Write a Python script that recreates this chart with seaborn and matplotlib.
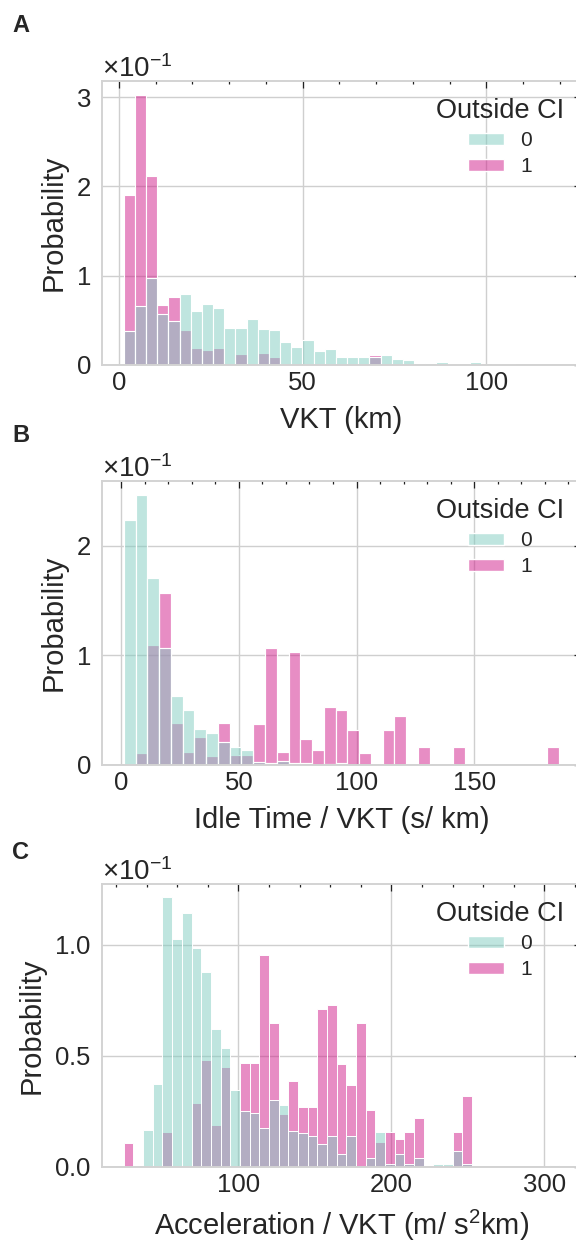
import numpy as np
import pandas as pd
import matplotlib
matplotlib.use("Agg")
import matplotlib.pyplot as plt
from matplotlib.ticker import MultipleLocator, AutoMinorLocator, ScalarFormatter
import seaborn as sns

# ---------------- data (bin layout + per-group probabilities) ----------------
hue_levels = [0, 1]
hue_title = "Outside CI"

# Panel A: VKT (km)
vkt_start, vkt_width, vkt_nbins = 1.3, 3.04, 39
vkt_p0 = [0.038, 0.066, 0.098, 0.057, 0.049, 0.079, 0.060, 0.068, 0.064, 0.041,
          0.042, 0.052, 0.040, 0.039, 0.026, 0.020, 0.028, 0.016, 0.018, 0.009,
          0.009, 0.009, 0.009, 0.011, 0.007, 0.006, 0.000, 0.002, 0.003, 0.001,
          0.0005, 0.003, 0.000, 0.001, 0.001, 0.000, 0.000, 0.000, 0.0005]
vkt_p1 = [0.190, 0.303, 0.212, 0.067, 0.076, 0.039, 0.019, 0.017, 0.019, 0.000,
          0.012, 0.000, 0.014, 0.009, 0.000, 0.000, 0.000, 0.000, 0.000, 0.000,
          0.000, 0.000, 0.011, 0.000, 0.000, 0.000, 0.000, 0.000, 0.000, 0.000,
          0.000, 0.000, 0.000, 0.000, 0.000, 0.000, 0.000, 0.000, 0.000]

# Panel B: Idle time / VKT (s/km)
idle_start, idle_width, idle_nbins = 1.1, 5.0, 37
idle_p0 = [0.224, 0.247, 0.171, 0.107, 0.063, 0.050, 0.033, 0.029, 0.021, 0.016,
           0.014, 0.003, 0.002, 0.004, 0.0015, 0.002, 0.000, 0.001, 0.0015, 0.000,
           0.000, 0.000, 0.000, 0.000, 0.000, 0.000, 0.000, 0.000, 0.000, 0.000,
           0.000, 0.000, 0.000, 0.000, 0.000, 0.000, 0.000]
idle_p1 = [0.000, 0.011, 0.110, 0.157, 0.038, 0.012, 0.026, 0.008, 0.038, 0.009,
           0.009, 0.037, 0.107, 0.012, 0.103, 0.024, 0.014, 0.053, 0.050, 0.032,
           0.011, 0.000, 0.032, 0.045, 0.000, 0.016, 0.000, 0.000, 0.016, 0.000,
           0.000, 0.000, 0.000, 0.000, 0.000, 0.000, 0.016]

# Panel C: Acceleration / VKT (m/s^2 km)
acc_start, acc_width, acc_nbins = 25.0, 6.326, 45
acc_p0 = [0.000, 0.000, 0.0167, 0.0375, 0.1213, 0.1026, 0.1144, 0.0985, 0.0878, 0.062,
          0.0535, 0.0348, 0.0251, 0.0245, 0.0176, 0.0303, 0.0279, 0.0161, 0.0152, 0.0138,
          0.0102, 0.0138, 0.0057, 0.0141, 0.000, 0.0042, 0.0158, 0.0015, 0.0057, 0.0015,
          0.0042, 0.000, 0.0012, 0.0012, 0.0072, 0.0012, 0.000, 0.000, 0.000, 0.000,
          0.000, 0.000, 0.000, 0.000, 0.0009]
acc_p1 = [0.0108, 0.000, 0.000, 0.000, 0.0158, 0.000, 0.000, 0.0288, 0.0482, 0.0188,
          0.045, 0.000, 0.0467, 0.0467, 0.0953, 0.0646, 0.0239, 0.0386, 0.027, 0.027,
          0.0712, 0.0727, 0.0465, 0.0368, 0.0646, 0.0255, 0.0113, 0.0158, 0.0125, 0.0158,
          0.0221, 0.000, 0.000, 0.000, 0.0158, 0.0318, 0.000, 0.000, 0.000, 0.000,
          0.000, 0.000, 0.000, 0.000, 0.000]

panel_letters = ["A", "B", "C"]
x_labels = ["VKT (km)", "Idle Time / VKT (s/ km)", r"Acceleration / VKT (m/ s$^2$km)"]
y_label = "Probability"
x_major = [50, 50, 100]
y_major = [0.1, 0.1, 0.05]

palette = {0: "#80cdc1", 1: "#d01c8b"}

# ---------------- style ----------------
sns.set_style("whitegrid")
plt.rcParams["font.family"] = ["Liberation Sans", "DejaVu Sans"]
plt.rcParams["mathtext.fontset"] = "custom"
plt.rcParams["mathtext.rm"] = "Liberation Sans"
plt.rcParams["mathtext.it"] = "Liberation Sans:italic"
plt.rcParams["mathtext.bf"] = "Liberation Sans:bold"
plt.rcParams["axes.edgecolor"] = "#d3d3d3"
plt.rcParams["axes.linewidth"] = 1.4
plt.rcParams["grid.color"] = "#cfcfcf"
plt.rcParams["grid.linewidth"] = 1.0

TICK_FS = 18.5
LABEL_FS = 21
W, H = 576, 1245
fig = plt.figure(figsize=(W / 100, H / 100), dpi=100)

ax_px = [(81, 365), (481, 765), (884, 1167)]   # top, bottom in pixels
letter_top = [14, 424, 841]
left_px, right_px = 102, 581

panels = [
    (vkt_start, vkt_width, vkt_nbins, vkt_p0, vkt_p1),
    (idle_start, idle_width, idle_nbins, idle_p0, idle_p1),
    (acc_start, acc_width, acc_nbins, acc_p0, acc_p1),
]

for i, (start, width, nb, p0, p1) in enumerate(panels):
    top, bot = ax_px[i]
    ax = fig.add_axes([left_px / W, 1 - bot / H, (right_px - left_px) / W, (bot - top) / H])
    edges = [start + width * k for k in range(nb + 1)]
    centers = [(edges[k] + edges[k + 1]) / 2 for k in range(nb)]
    df = pd.DataFrame({
        "x": centers + centers,
        "w": list(p0) + list(p1),
        hue_title: [0] * nb + [1] * nb,
    })
    sns.histplot(data=df, x="x", weights="w", hue=hue_title, hue_order=hue_levels,
                 bins=edges, stat="count", multiple="layer", palette=palette,
                 alpha=0.5, ax=ax)
    ax.set_xlabel(x_labels[i], fontsize=LABEL_FS, labelpad=8)
    ax.set_ylabel(y_label, fontsize=LABEL_FS, labelpad=6)
    ax.xaxis.set_major_locator(MultipleLocator(x_major[i]))
    ax.xaxis.set_minor_locator(AutoMinorLocator(5))
    ax.yaxis.set_major_locator(MultipleLocator(y_major[i]))
    fmt = ScalarFormatter(useMathText=True)
    fmt.set_powerlimits((0, 0))
    ax.yaxis.set_major_formatter(fmt)
    ax.yaxis.get_offset_text().set_fontsize(20)
    ax.grid(True, which="major")
    ax.grid(False, which="minor")
    ax.tick_params(axis="x", which="both", direction="in", top=True, bottom=False,
                   labelbottom=True, color="#222222", labelsize=TICK_FS, pad=4)
    ax.tick_params(axis="x", which="major", length=5, width=0.9)
    ax.tick_params(axis="x", which="minor", length=2.5, width=0.9)
    ax.tick_params(axis="y", which="major", direction="in", left=False, right=True,
                   length=5, width=0.9, color="#222222", labelsize=TICK_FS, pad=8)
    for s in ax.spines.values():
        s.set_visible(True)
    sns.move_legend(ax, "upper right", frameon=False, fontsize=15,
                    title=hue_title, title_fontsize=19.5,
                    handlelength=1.7, handleheight=0.5, handletextpad=0.8,
                    labelspacing=0.35, borderaxespad=0.4)
    fig.text(12 / W, 1 - letter_top[i] / H, panel_letters[i], fontsize=17,
             fontweight="bold", ha="left", va="top")

fig.savefig("out.png", dpi=100)
